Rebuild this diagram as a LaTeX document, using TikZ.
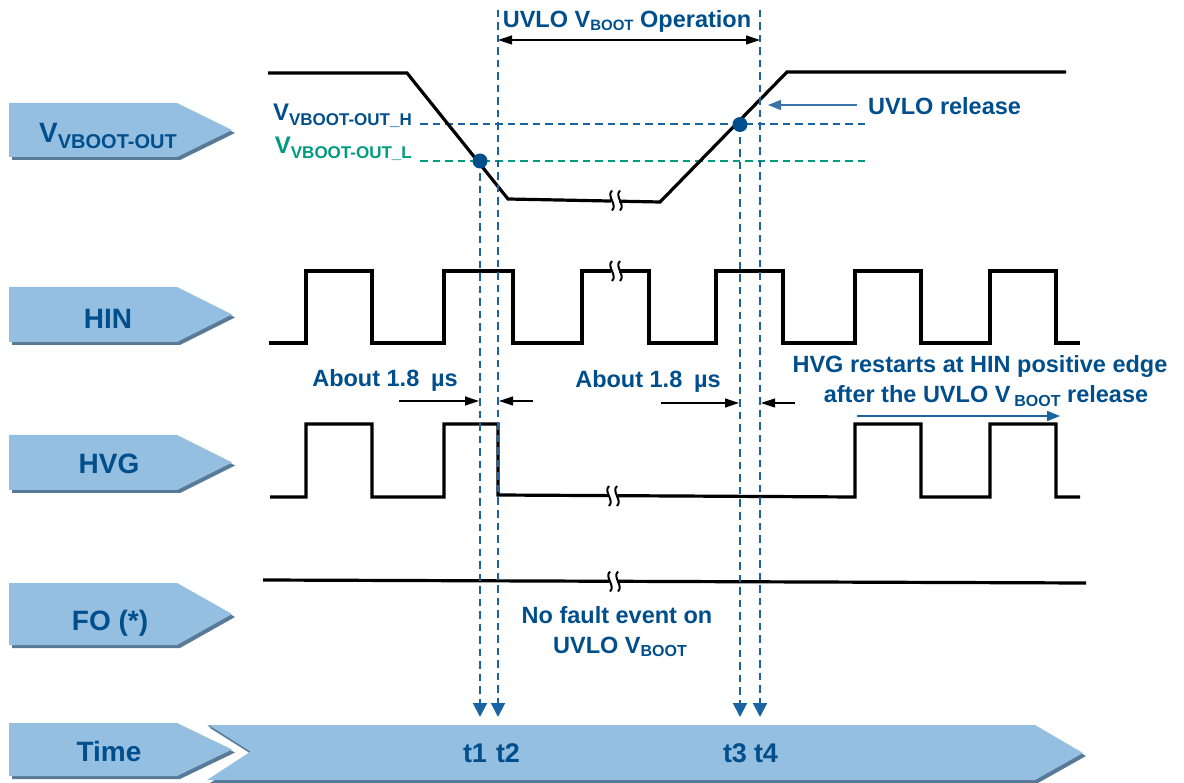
\documentclass[tikz,border=0pt]{standalone}
\usepackage{fontspec}
\setmainfont{Liberation Sans}
\usetikzlibrary{arrows.meta}
\definecolor{tb}{HTML}{004F8C}
\definecolor{lb}{HTML}{95BFE1}
\definecolor{sh}{HTML}{587A96}
\definecolor{db}{HTML}{1B64A3}
\definecolor{gr}{HTML}{009A7E}
\definecolor{ab}{HTML}{3A73AC}
\newcommand{\fs}[1]{\fontsize{#1}{#1}\selectfont}
\newcommand{\lowsub}[3]{\raisebox{-#1}{\fs{#2}#3}}
\newcommand{\tagshape}[3]{% top, bottom, tip x
  \fill[sh] (12,{#1+3}) -- (180,{#1+3}) -- ({#3+3},{(#1+#2)/2+3}) -- (180,{#2+3}) -- (12,{#2+3}) -- cycle;
  \fill[lb] (9,#1) -- (177,#1) -- (#3,{(#1+#2)/2}) -- (177,#2) -- (9,#2) -- cycle;
}
\newcommand{\brk}[2]{%
  \fill[white] ({#1-4},{#2-4}) rectangle ({#1+4},{#2+4});
  \draw[line width=2pt] ({#1-3},{#2-10}) .. controls ({#1-9},{#2-4}) and ({#1+3},{#2+4}) .. ({#1-3},{#2+10});
  \draw[line width=2pt] ({#1+5},{#2-10}) .. controls ({#1-1},{#2-4}) and ({#1+11},{#2+4}) .. ({#1+5},{#2+10});
}
\begin{document}
\begin{tikzpicture}[x=1pt,y=-1pt,
  sig/.style={line width=3.2pt, black, line join=miter},
  dsh/.style={draw=db, line width=2pt, dash pattern=on 7.5pt off 5pt},
  dshg/.style={dsh, draw=gr},
  txt/.style={text=tb, font=\fs{23.5}\bfseries, inner sep=0pt},
  lbl/.style={text=tb, font=\fs{28}\bfseries, inner sep=0pt},
  dimarr/.style={line width=1.2pt, -{Triangle[length=14pt,width=9pt]}},
  blarr/.style={draw=ab, line width=1.6pt, -{Triangle[length=13pt,width=10pt]}},
  tarr/.style={dsh, -{Triangle[length=14pt,width=14pt]}}
]
\useasboundingbox (0,0) rectangle (1184,783);

% ---- signal labels
\tagshape{103}{157}{232}
\tagshape{287}{342}{232}
\tagshape{435}{490}{232}
\tagshape{583}{645}{232}
\tagshape{723}{776}{232}
% Time axis arrow
\fill[sh] (210,728) -- (1038,728) -- (1086,756) -- (1038,783) -- (210,783) -- (253,755) -- cycle;
\fill[lb] (207,725) -- (1035,725) -- (1083,753) -- (1035,780) -- (207,780) -- (250,752) -- cycle;
\draw[sh, line width=1pt] (209,726) -- (250,752);

\node[lbl, anchor=base] (lv) at (108,143) {V\lowsub{6pt}{20}{VBOOT-OUT}};
\node[lbl, anchor=base] (lhin) at (108,329) {HIN};
\node[lbl, anchor=base] (lhvg) at (109,474) {HVG};
\node[lbl, anchor=base] (lfo) at (110,630) {FO (*)};
\node[lbl, anchor=base] (ltime) at (109,761) {Time};

% ---- threshold lines
\coordinate (hl) at (420,124.5); \coordinate (hr) at (868,124.5);
\coordinate (gl) at (420,161); \coordinate (gr) at (868,161);
\draw[dsh] (hl) -- (hr);
\draw[dshg] (gl) -- (gr);
\node[txt, anchor=base east, font=\fs{24}\bfseries] (vh) at (412,121) {V\lowsub{4.5pt}{17}{VBOOT-OUT\_H}};
\node[txt, anchor=base east, font=\fs{24}\bfseries, text=gr] (vl) at (412,153.5) {V\lowsub{5pt}{17}{VBOOT-OUT\_L}};

% ---- waveforms
\draw[sig] (268,73) -- (407,73) -- (508,199) -- (660,202) -- (787,72) -- (1066,72);
\brk{615}{200.5}
\draw[sig] (269,343) -- (306,343) -- (306,271) -- (372,271) -- (372,343) -- (444,343) -- (444,271) -- (513,271) -- (513,343) -- (582,343) -- (582,271) -- (649,271) -- (649,343) -- (716,343) -- (716,271) -- (783,271) -- (783,343) -- (855,343) -- (855,271) -- (921,271) -- (921,343) -- (990,343) -- (990,271) -- (1056,271) -- (1056,343) -- (1080,343);
\brk{615}{271}
\draw[sig] (270,497) -- (306,497) -- (306,424) -- (372,424) -- (372,497) -- (444,497) -- (444,424) -- (498,424) -- (498,495) -- (855,497) -- (855,424) -- (921,424) -- (921,497) -- (990,497) -- (990,424) -- (1056,424) -- (1056,497) -- (1080,497);
\brk{612}{496}
\draw[sig] (263,580) -- (1086,583);
\brk{613}{581.5}

% ---- time markers
\coordinate (t1a) at (480,161); \coordinate (t1b) at (480,717);
\coordinate (t2a) at (498,10);  \coordinate (t2b) at (498,717);
\coordinate (t3a) at (740,124.5); \coordinate (t3b) at (740,717);
\coordinate (t4a) at (760,10);  \coordinate (t4b) at (760,717);
\draw[tarr] (t1a) -- (t1b);
\draw[tarr] (t2a) -- (t2b);
\draw[tarr] (t3a) -- (t3b);
\draw[tarr] (t4a) -- (t4b);
\fill[tb] (t1a) circle (7.5);
\fill[tb] (t3a) circle (7.5);

\node[lbl, anchor=base, font=\fs{27}\bfseries] (n1) at (475,762) {t1};
\node[lbl, anchor=base, font=\fs{27}\bfseries] (n2) at (508,762) {t2};
\node[lbl, anchor=base, font=\fs{27}\bfseries] (n3) at (735,762) {t3};
\node[lbl, anchor=base, font=\fs{27}\bfseries] (n4) at (766,762) {t4};

% ---- UVLO operation
\coordinate (oa) at (498,40); \coordinate (ob) at (760,40);
\draw[line width=1.2pt, {Triangle[length=14pt,width=9pt]}-{Triangle[length=14pt,width=9pt]}] (oa) -- (ob);
\node[txt, anchor=base] (op) at (627,28) {UVLO V\lowsub{2.5pt}{15}{BOOT} Operation};

% ---- UVLO release
\coordinate (ra) at (857,105); \coordinate (rb) at (768,105);
\draw[blarr] (ra) -- (rb);
\node[txt, anchor=base west] (rel) at (868,115) {UVLO release};

% ---- about 1.8 us
\coordinate (d1a) at (399,401); \coordinate (d1b) at (479,401);
\coordinate (d2a) at (533,401); \coordinate (d2b) at (499,401);
\draw[dimarr] (d1a) -- (d1b);
\draw[dimarr] (d2a) -- (d2b);
\node[txt, anchor=base] (ab1) at (385,387) {About 1.8\hspace{0.5em}µs};
\coordinate (d3a) at (661,403); \coordinate (d3b) at (739,403);
\coordinate (d4a) at (795,403); \coordinate (d4b) at (761,403);
\draw[dimarr] (d3a) -- (d3b);
\draw[dimarr] (d4a) -- (d4b);
\node[txt, anchor=base] (ab2) at (648,388) {About 1.8\hspace{0.5em}µs};

% ---- HVG restarts
\node[txt, anchor=base] (hr1) at (980,373) {HVG restarts at HIN positive edge};
\node[txt, anchor=base] (hr2) at (986,403) {after the UVLO V\,\lowsub{4pt}{16}{BOOT} release};
\coordinate (ha) at (857,416); \coordinate (hb) at (1060,416);
\draw[blarr, draw=db] (ha) -- (hb);

% ---- no fault
\node[txt, anchor=base] (nf1) at (617,623) {No fault event on};
\node[txt, anchor=base] (nf2) at (620,653) {UVLO V\lowsub{3.7pt}{16}{BOOT}};
\end{tikzpicture}
\end{document}
